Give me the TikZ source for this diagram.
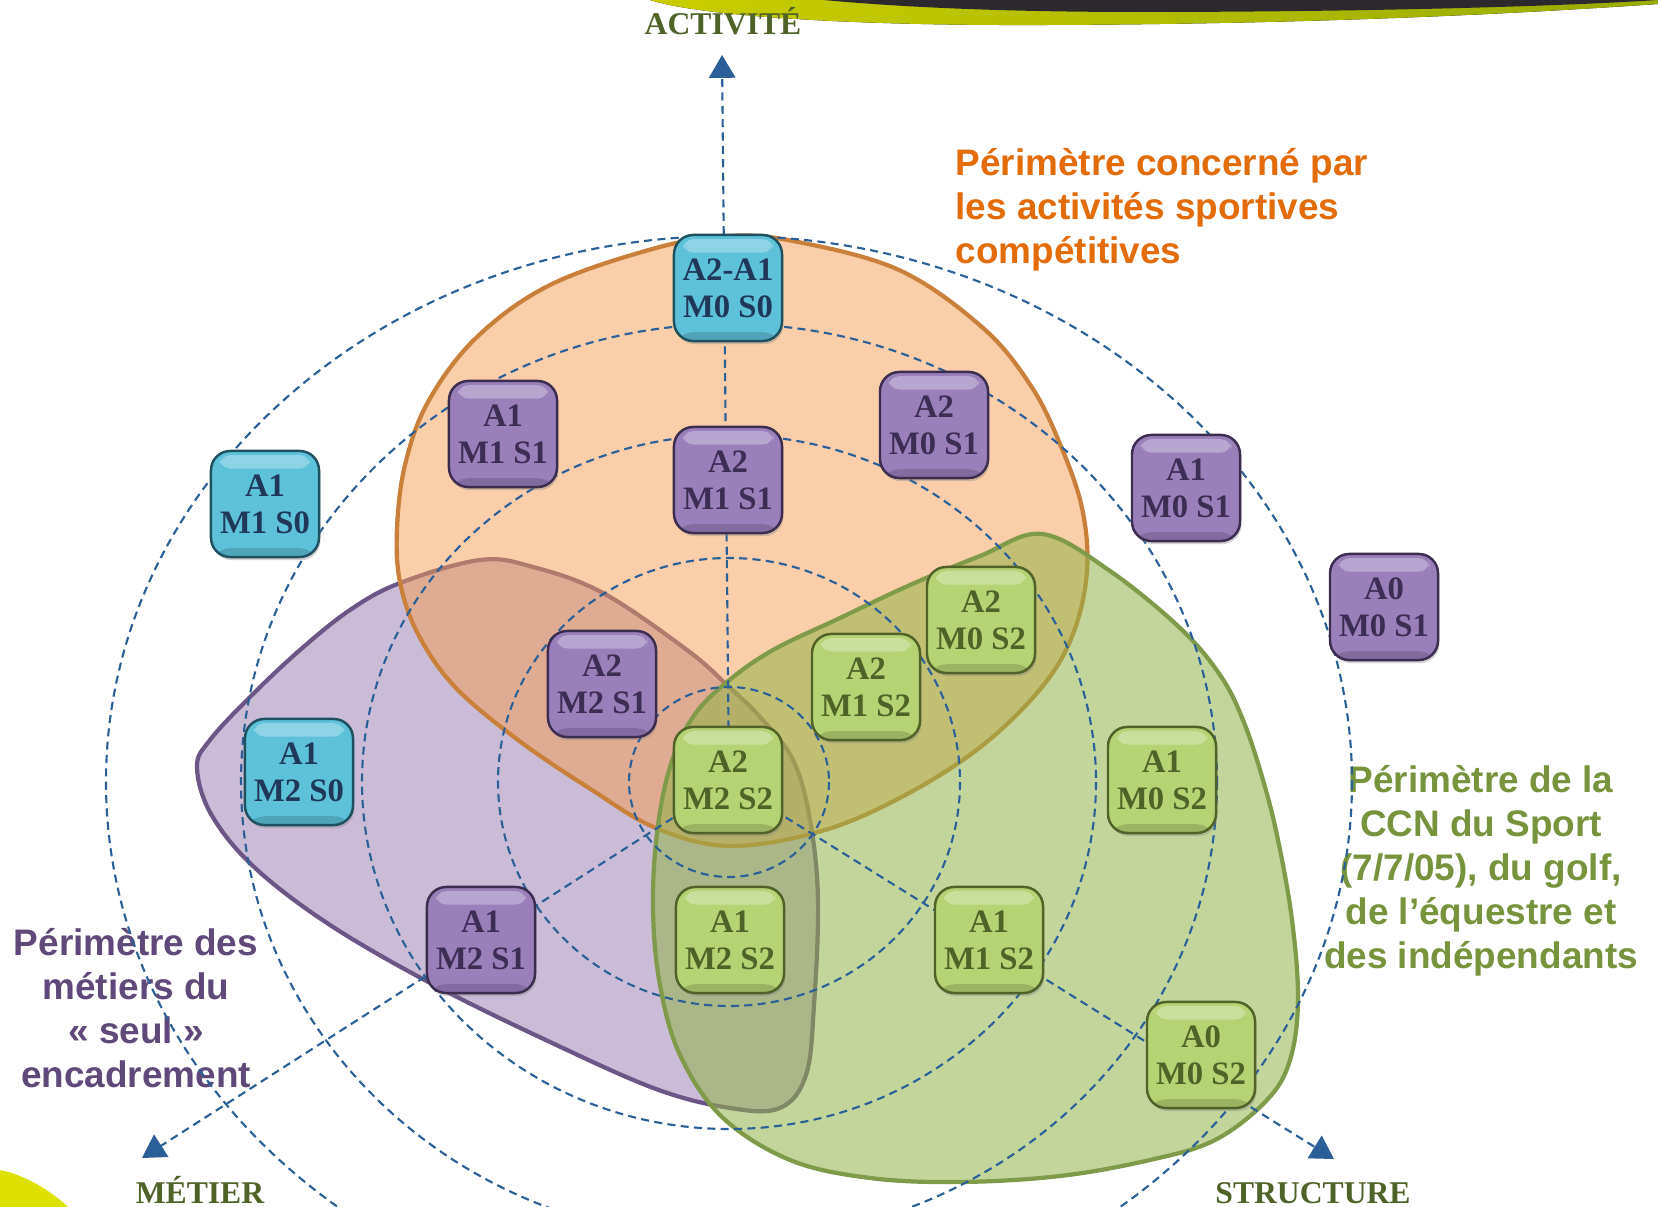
\documentclass[tikz,border=0pt]{standalone}
\usepackage{fontspec}
\setmainfont{Liberation Serif}
\newfontfamily\labelfont{Liberation Sans}
\usetikzlibrary{arrows.meta,shadows}

\definecolor{ringblue}{RGB}{42,95,151}
\definecolor{headdark}{RGB}{43,41,45}
\definecolor{headlime}{RGB}{202,206,0}
\definecolor{headolive}{RGB}{152,172,0}
\definecolor{cornerlime}{RGB}{222,224,0}
\definecolor{axistext}{RGB}{79,98,40}
\definecolor{purplezone}{RGB}{151,123,175}
\definecolor{purpleedge}{RGB}{107,86,135}
\definecolor{orangezone}{RGB}{245,158,82}
\definecolor{orangeedge}{RGB}{200,128,58}
\definecolor{greenzone}{RGB}{146,180,73}
\definecolor{greenedge}{RGB}{127,154,72}
\definecolor{orangetext}{RGB}{227,108,9}
\definecolor{purpletext}{RGB}{95,73,122}
\definecolor{greentext}{RGB}{119,147,60}
\definecolor{cyanfill}{RGB}{93,193,218}
\definecolor{cyanrim}{RGB}{30,80,95}
\definecolor{cyanink}{RGB}{31,56,90}
\definecolor{purplefill}{RGB}{153,128,187}
\definecolor{purplerim}{RGB}{60,45,80}
\definecolor{purpleink}{RGB}{60,45,85}
\definecolor{greenfill}{RGB}{181,210,116}
\definecolor{greenrim}{RGB}{80,98,40}
\definecolor{greenink}{RGB}{79,98,40}

\tikzstyle{orbit} = [draw=ringblue, line width=0.6pt, dash pattern=on 2.3pt off 1.5pt]
\tikzstyle{axisline} = [orbit, -{Triangle[length=6.5pt,width=7.5pt]}]
\tikzstyle{zone} = [line width=1.2pt]
\tikzstyle{zonelabel} = [inner sep=0pt, font=\labelfont\fontsize{10.5}{12.5}\selectfont\bfseries]
\tikzstyle{axislabel} = [inner sep=0pt, text=axistext, font=\fontsize{9}{10}\selectfont\bfseries]
\tikzstyle{cellbase} = [rectangle, rounded corners=5.5pt, minimum width=1.08cm, minimum height=1.06cm,
  inner sep=0pt, line width=0.7pt, align=center, font=\fontsize{9.3}{10.5}\selectfont\bfseries,
  drop shadow={opacity=0.35, shadow xshift=0.4pt, shadow yshift=-0.9pt},
  path picture={
    \fill[white, opacity=0.3, rounded corners=3pt]
      ([xshift=2.5pt,yshift=-1.2pt]path picture bounding box.north west) rectangle
      ([xshift=-2.5pt,yshift=-5pt]path picture bounding box.north east);
    \fill[black, opacity=0.15]
      ([yshift=2.5pt]path picture bounding box.south west) rectangle
      (path picture bounding box.south east);}]
\tikzstyle{cyancell} = [cellbase, draw=cyanrim, fill=cyanfill, text=cyanink]
\tikzstyle{purplecell} = [cellbase, draw=purplerim, fill=purplefill, text=purpleink]
\tikzstyle{greencell} = [cellbase, draw=greenrim, fill=greenfill, text=greenink]

\begin{document}
\begin{tikzpicture}[x=0.01cm,y=-0.01cm]

\useasboundingbox (0,0) rectangle (1658,1207);
\fill[white] (0,0) rectangle (1658,1207);
\clip (0,0) rectangle (1658,1207);

% header band and corner
\fill[left color=headlime, right color=headolive]
  (650,0) .. controls (700,16) and (850,26) .. (1050,25)
  .. controls (1300,24) and (1500,15) .. (1658,4) -- (1658,0) -- cycle;
\fill[headdark]
  (823,0) .. controls (900,7) and (1000,12) .. (1140,12)
  .. controls (1350,12) and (1550,7) .. (1658,0) -- cycle;
\fill[cornerlime] (0,1170) .. controls (25,1175) and (50,1190) .. (68,1207) -- (0,1207) -- cycle;

% zones
\path[zone, draw=purpleedge, fill=purplezone, fill opacity=0.5]
  plot[smooth cycle, tension=0.6] coordinates {(197,767) (211,814) (254,867) (330,925) (434,985)
  (550,1042) (656,1089) (730,1108) (780,1108) (806,1075) (814,1005) (818,900) (810,820)
  (793,760) (760,717) (727,685) (687,650) (603,593) (533,567) (480,560) (400,583)
  (350,610) (300,650) (250,697) (210,740)};
\path[zone, draw=orangeedge, fill=orangezone, fill opacity=0.5]
  plot[smooth cycle, tension=0.6] coordinates {(728,236) (793,241) (899,270) (983,328) (1031,386)
  (1060,444) (1082,508) (1087,571) (1073,634) (1042,687) (983,745) (909,793) (825,830)
  (730,846) (656,828) (592,790) (518,740) (455,687) (418,634) (400,582) (397,529)
  (405,465) (428,402) (476,338) (550,285) (656,248)};
\path[zone, draw=greenedge, fill=greenzone, fill opacity=0.55]
  plot[smooth cycle, tension=0.6] coordinates {(1042,534) (1110,571) (1180,628) (1220,675)
  (1243,720) (1263,780) (1278,840) (1292,920) (1298,1000) (1290,1060) (1267,1100)
  (1215,1140) (1150,1160) (1060,1176) (960,1182) (870,1178) (790,1160) (722,1117)
  (680,1055) (660,985) (653,910) (657,833) (670,767) (693,717) (727,682) (773,650)
  (840,618) (910,585) (980,556)};

% zone labels
\node[zonelabel, text=orangetext, anchor=north west, align=left] (lblcomp) at (955,148)
  {Périmètre concerné par\\les activités sportives\\compétitives};
\node[zonelabel, text=greentext, anchor=north, align=center] (lblccn) at (1481,765)
  {Périmètre de la\\CCN du Sport\\(7/7/05), du golf,\\de l’équestre et\\des indépendants};
\node[zonelabel, text=purpletext, anchor=north, align=center] (lblseul) at (136,928)
  {Périmètre des\\métiers du\\« seul »\\encadrement};

% rings and axes
\coordinate (ctr) at (729,782);
\draw[orbit] (ctr) ellipse [x radius=100, y radius=95];
\draw[orbit] (ctr) ellipse [x radius=231, y radius=224];
\draw[orbit] (ctr) ellipse [x radius=367, y radius=347];
\draw[orbit] (ctr) ellipse [x radius=488, y radius=458];
\draw[orbit] (ctr) ellipse [x radius=623, y radius=546];

\coordinate (acttip) at (722,55);
\coordinate (mettip) at (142,1158);
\coordinate (strtip) at (1334,1159);
\draw[axisline] (ctr) -- (acttip);
\draw[axisline] (ctr) -- (mettip);
\draw[axisline] (ctr) -- (strtip);

\node[axislabel, anchor=base] (activite) at (723,35) {ACTIVITÉ};
\node[axislabel, anchor=base] (metier) at (200,1203) {MÉTIER};
\node[axislabel, anchor=base] (structure) at (1313,1203) {STRUCTURE};

% cells
\node[cyancell] (a2a1m0s0) at (728,288) {A2-A1\\M0 S0};
\node[purplecell] (a1m1s1) at (503,434) {A1\\M1 S1};
\node[purplecell] (a2m0s1) at (934,425) {A2\\M0 S1};
\node[purplecell] (a2m1s1) at (728,480) {A2\\M1 S1};
\node[cyancell] (a1m1s0) at (265,504) {A1\\M1 S0};
\node[purplecell] (a1m0s1) at (1186,488) {A1\\M0 S1};
\node[purplecell] (a0m0s1) at (1384,607) {A0\\M0 S1};
\node[greencell] (a2m0s2) at (981,620) {A2\\M0 S2};
\node[purplecell] (a2m2s1) at (602,684) {A2\\M2 S1};
\node[greencell] (a2m1s2) at (866,687) {A2\\M1 S2};
\node[cyancell] (a1m2s0) at (299,772) {A1\\M2 S0};
\node[greencell] (a2m2s2) at (728,780) {A2\\M2 S2};
\node[greencell] (a1m0s2) at (1162,780) {A1\\M0 S2};
\node[purplecell] (a1m2s1) at (481,940) {A1\\M2 S1};
\node[greencell] (a1m2s2) at (730,940) {A1\\M2 S2};
\node[greencell] (a1m1s2) at (989,940) {A1\\M1 S2};
\node[greencell] (a0m0s2) at (1201,1055) {A0\\M0 S2};

\end{tikzpicture}
\end{document}
